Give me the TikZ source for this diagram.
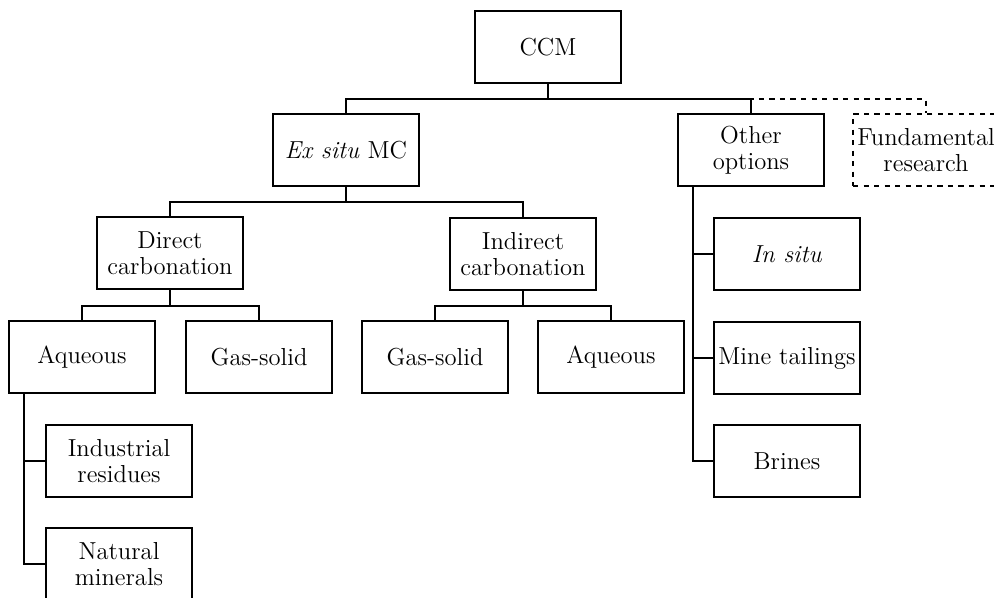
\documentclass[tikz,border=0pt]{standalone}

\tikzset{
    box/.style={draw, line width=1.1pt, minimum width=2.92cm, minimum height=1.44cm,
        align=center, inner sep=1pt, font=\fontsize{14}{14.8}\selectfont},
    dashbox/.style={box, dashed},
    link/.style={line width=1.1pt}
}

\begin{document}
\begin{tikzpicture}[x=.02cm, y=-.02cm]

    \clip (0,0) rectangle (994,598);

    % top level
    \node[box] (ccm) at (548,47) {CCM};
    \node[box] (exsitu) at (346,150) {\textit{Ex situ} MC};
    \node[box] (other) at (751,150) {Other\\options};
    \node[dashbox] (fund) at (926,150) {Fundamental\\research};

    \coordinate (j0) at (548,99);
    \draw[link] (ccm.south) -- (j0);
    \draw[link] (exsitu.north) |- (j0) -| (other.north);
    \draw[link, dashed] (j0) -| (fund.north);

    % ex situ
    \node[box] (direct) at (170,253) {Direct\\carbonation};
    \node[box] (indirect) at (523,254) {Indirect\\carbonation};

    \coordinate (j1) at (346,202);
    \draw[link] (exsitu.south) -- (j1);
    \draw[link] (direct.north) |- (j1) -| (indirect.north);

    % direct carbonation
    \node[box] (aq1) at (82,357) {Aqueous};
    \node[box] (gs1) at (259,357) {Gas-solid};

    \coordinate (j2) at (170,306);
    \draw[link] (direct.south) -- (j2);
    \draw[link] (aq1.north) |- (j2) -| (gs1.north);

    % indirect carbonation
    \node[box] (gs2) at (435,357) {Gas-solid};
    \node[box] (aq2) at (611,357) {Aqueous};

    \coordinate (j3) at (523,306);
    \draw[link] (indirect.south) -- (j3);
    \draw[link] (gs2.north) |- (j3) -| (aq2.north);

    % aqueous feedstocks
    \node[box] (indres) at (119,461) {Industrial\\residues};
    \node[box] (natmin) at (119,564) {Natural\\minerals};

    \coordinate (aqbus) at (24,393);
    \draw[link] (aqbus) |- (natmin.west);
    \draw[link] (aqbus |- indres.west) -- (indres.west);

    % other options
    \node[box] (insitu) at (787,254) {\textit{In situ}};
    \node[box] (mine) at (787,358) {Mine tailings};
    \node[box] (brines) at (787,461) {Brines};

    \coordinate (obus) at (693,187);
    \draw[link] (obus) |- (brines.west);
    \foreach \n in {insitu,mine} {
        \draw[link] (obus |- \n.west) -- (\n.west);
    }

\end{tikzpicture}
\end{document}
